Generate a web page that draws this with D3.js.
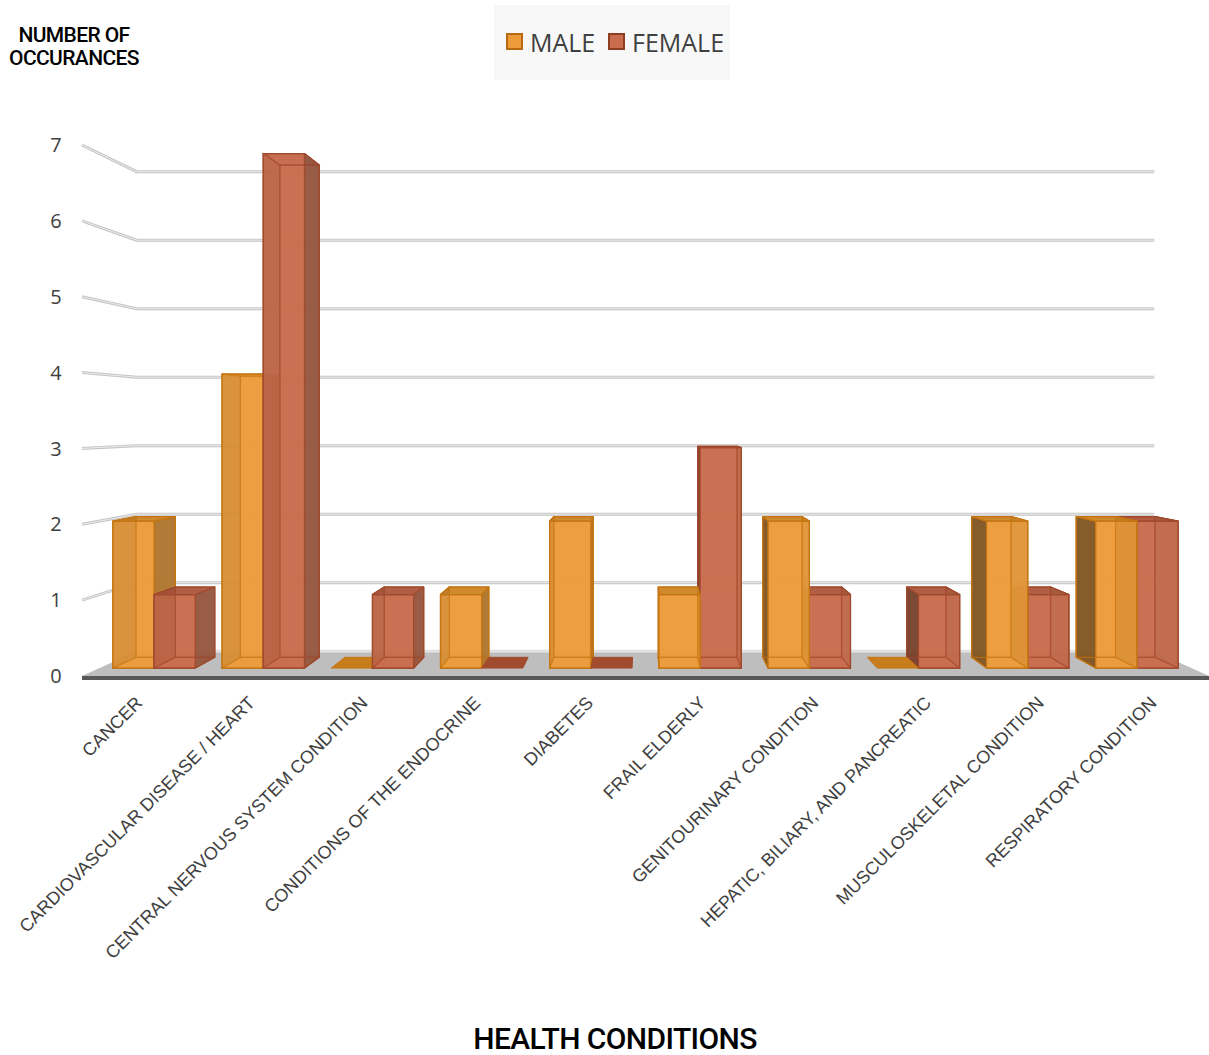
<!DOCTYPE html>
<html>
<head>
<meta charset="utf-8">
<script src="https://cdn.jsdelivr.net/npm/d3@7"></script>
<style>
  html, body { margin: 0; padding: 0; background: #ffffff; }
  svg { display: block; }
</style>
</head>
<body>
<script>
// ---------- DATA ----------
const categories = [
  "CANCER",
  "CARDIOVASCULAR DISEASE / HEART",
  "CENTRAL NERVOUS SYSTEM CONDITION",
  "CONDITIONS OF THE ENDOCRINE",
  "DIABETES",
  "FRAIL ELDERLY",
  "GENITOURINARY CONDITION",
  "HEPATIC, BILIARY, AND PANCREATIC",
  "MUSCULOSKELETAL CONDITION",
  "RESPIRATORY CONDITION"
];
const seriesNames = ["MALE", "FEMALE"];
const maleValues   = [2, 4, 0, 1, 2, 1, 2, 0, 2, 2];
const femaleValues = [1, 7, 1, 0, 0, 3, 1, 1, 1, 2];
const yTicks = [0, 1, 2, 3, 4, 5, 6, 7];
const yTitleLines = ["NUMBER OF", "OCCURANCES"];
const xTitle = "HEALTH CONDITIONS";

// ---------- LAYOUT / STYLE ----------
const W = 1209, H = 1055;
const vx = 645, vy = 420;            // vanishing point
const sFront = 0.969, sBack = 0.927; // bar depth scales
const sWall = 0.903;                 // back wall scale

const styles = {
  MALE:   { front: "#EC9B3B", top: "#C98223", right: "#A4702E", left: "#6F4B1F", stroke: "#C57512", flat: "#C77D1B" },
  FEMALE: { front: "#C96D4D", top: "#A9553A", right: "#8C533D", left: "#6B3B2A", stroke: "#A14A2C", flat: "#A14C2E" }
};

const svg = d3.select("body").append("svg").attr("width", W).attr("height", H);

const x = d3.scaleBand().domain(categories).range([82, 1209]).paddingInner(0.246).paddingOuter(0.123);
const xs = d3.scaleBand().domain(seriesNames).range([0, x.bandwidth()]);
const y = d3.scaleLinear().domain([0, 7]).range([676, 145]);

const floorL = 82, floorR = 1209;
const proj = (X, Y, s) => [vx + s * (X - vx), vy + s * (Y - vy)];
const pts = arr => arr.map(p => p.join(",")).join(" ");

// ---------- FLOOR ----------
svg.append("polygon")
  .attr("points", pts([proj(floorL, y(0), 1), proj(floorR, y(0), 1), proj(floorR, y(0), sWall), proj(floorL, y(0), sWall)]))
  .attr("fill", "#bebebe");
svg.append("rect").attr("x", floorL).attr("y", y(0)).attr("width", floorR - floorL).attr("height", 4).attr("fill", "#585858");

// ---------- GRIDLINES ----------
const grid = svg.append("g");
yTicks.forEach(v => {
  const a = proj(floorL, y(v), 1), b = proj(floorL, y(v), sWall), c = proj(floorR, y(v), sWall);
  const path = v === 0 ? `M${b}L${c}` : `M${a}L${b}L${c}`;
  grid.append("path").attr("d", path).attr("fill", "none").attr("stroke", v === 0 ? "#d8d8d8" : "#c4c4c4").attr("stroke-width", 3);
  grid.append("path").attr("d", path).attr("fill", "none").attr("stroke", "#ececec").attr("stroke-width", 1);
});

// ---------- BARS ----------
const bars = [];
categories.forEach((c, i) => {
  bars.push({ cat: c, series: "MALE", value: maleValues[i] });
  bars.push({ cat: c, series: "FEMALE", value: femaleValues[i] });
});
bars.forEach(b => {
  b.x1 = x(b.cat) + xs(b.series);
  b.x2 = b.x1 + xs.bandwidth();
  b.dist = Math.abs((b.x1 + b.x2) / 2 - vx);
});
bars.sort((a, b) => b.dist - a.dist);

const gBars = svg.append("g");
bars.forEach(b => {
  const st = styles[b.series];
  const g = gBars.append("g");
  const Yb = y(0), Yt = y(b.value);
  const F = (X, Y) => proj(X, Y, sFront), B = (X, Y) => proj(X, Y, sBack);
  if (b.value === 0) {
    g.append("polygon")
      .attr("points", pts([F(b.x1, Yb), F(b.x2, Yb), B(b.x2, Yb), B(b.x1, Yb)]))
      .attr("fill", st.flat).attr("stroke", st.stroke).attr("stroke-width", 1);
    return;
  }
  const faces = {
    back:   [B(b.x1, Yt), B(b.x2, Yt), B(b.x2, Yb), B(b.x1, Yb)],
    bottom: [F(b.x1, Yb), F(b.x2, Yb), B(b.x2, Yb), B(b.x1, Yb)],
    left:   [F(b.x1, Yt), B(b.x1, Yt), B(b.x1, Yb), F(b.x1, Yb)],
    right:  [F(b.x2, Yt), B(b.x2, Yt), B(b.x2, Yb), F(b.x2, Yb)],
    top:    [F(b.x1, Yt), F(b.x2, Yt), B(b.x2, Yt), B(b.x1, Yt)],
    front:  [F(b.x1, Yt), F(b.x2, Yt), F(b.x2, Yb), F(b.x1, Yb)]
  };
  const leftVisible = b.x1 > vx;
  const topVisible = Yt > vy;
  const hidden = ["back", "bottom", leftVisible ? "right" : "left"];
  const visible = [leftVisible ? "left" : "right", "front"];
  if (topVisible) visible.push("top"); else hidden.push("top");
  const col = f => f === "left" ? st.left : f === "right" ? st.right : f === "top" ? st.top : st.front;
  hidden.concat(visible).forEach(f => {
    g.append("polygon").attr("points", pts(faces[f]))
      .attr("fill", col(f)).attr("fill-opacity", 0.82)
      .attr("stroke", st.stroke).attr("stroke-width", 1.2).attr("stroke-linejoin", "round");
  });
  hidden.forEach(f => {
    g.append("polygon").attr("points", pts(faces[f]))
      .attr("fill", "none").attr("stroke", st.stroke).attr("stroke-opacity", 0.45).attr("stroke-width", 1.2);
  });
});

// ---------- Y AXIS LABELS ----------
svg.append("g").selectAll("text").data(yTicks).join("text")
  .attr("x", 56).attr("y", d => y(d)).attr("dy", "0.36em")
  .attr("text-anchor", "middle")
  .attr("font-family", "'Open Sans', 'Noto Sans', sans-serif").attr("font-size", 20)
  .attr("fill", "#404040")
  .text(d => d);

svg.append("g").selectAll("text").data(yTitleLines).join("text")
  .attr("x", 74).attr("y", (d, i) => 41.5 + i * 23.5)
  .attr("text-anchor", "middle")
  .attr("font-family", "Roboto, 'Liberation Sans', sans-serif").attr("font-weight", 500)
  .attr("font-size", 21).attr("letter-spacing", -0.6)
  .attr("fill", "#000")
  .text(d => d);

// ---------- X AXIS LABELS ----------
svg.append("g").selectAll("text").data(categories).join("text")
  .attr("transform", d => `translate(${x(d) + x.bandwidth() / 2 + 5},704) rotate(-45)`)
  .attr("text-anchor", "end")
  .attr("font-family", "'Liberation Sans', Arial, sans-serif").attr("font-size", 18)
  .attr("fill", "#404040")
  .text(d => d);

svg.append("text")
  .attr("x", 615).attr("y", 1049)
  .attr("text-anchor", "middle")
  .attr("font-family", "Roboto, 'Liberation Sans', sans-serif").attr("font-weight", 500)
  .attr("font-size", 30).attr("letter-spacing", -0.6)
  .attr("fill", "#000")
  .text(xTitle);

// ---------- LEGEND ----------
const legend = svg.append("g");
legend.append("rect").attr("x", 494).attr("y", 5).attr("width", 236).attr("height", 75).attr("fill", "#f8f8f8");
const legX = [507, 609];
seriesNames.forEach((s, i) => {
  legend.append("rect").attr("x", legX[i]).attr("y", 34).attr("width", 15).attr("height", 15)
    .attr("fill", styles[s].front).attr("stroke", s === "MALE" ? "#B9690F" : "#8E3F22").attr("stroke-width", 2);
  legend.append("text").attr("x", legX[i] + 23).attr("y", 51.5)
    .attr("font-family", "'Open Sans', 'Noto Sans', sans-serif").attr("font-size", 25)
    .attr("fill", "#404040").text(s);
});
</script>
</body>
</html>
